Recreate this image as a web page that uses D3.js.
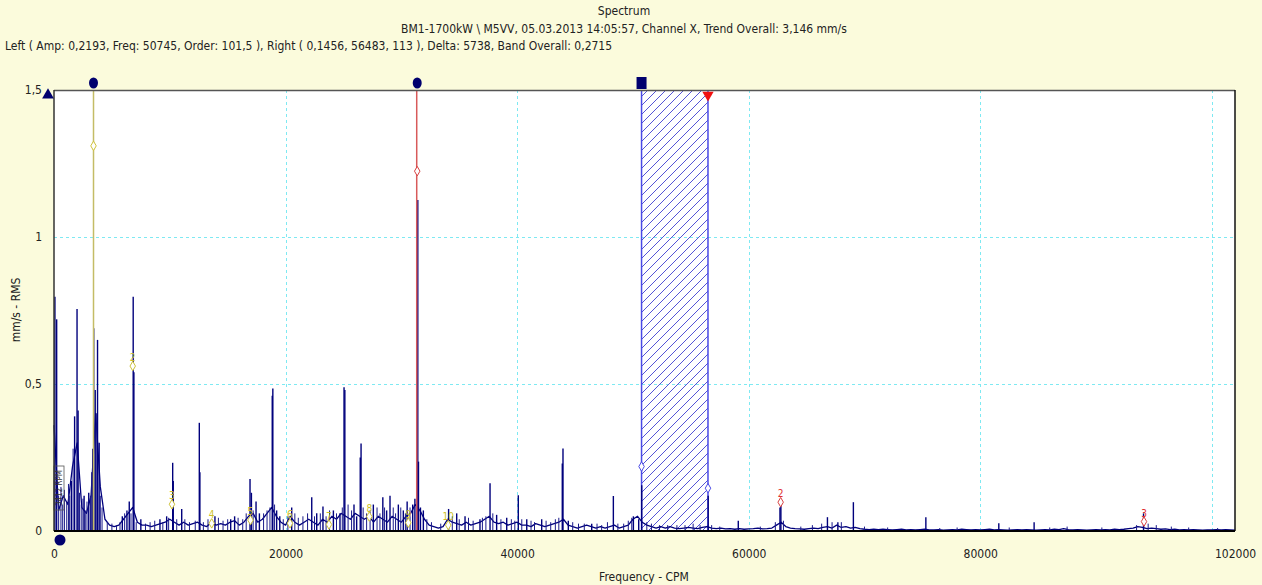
<!DOCTYPE html>
<html lang="en">
<head>
<meta charset="UTF-8" />
<title>Spectrum</title>
<style>
  body {
    margin: 0;
    background: #fbfbdc;
    font-family: "Liberation Sans Narrow", "Arial Narrow", "DejaVu Sans Condensed", sans-serif;
  }
  svg text { fill: #222; font-size: 12px; }
  .grid line { stroke: #7ee9f2; stroke-dasharray: 3 3; stroke-width: 1; }
  .axis path { display: none; }
  .axis line { display: none; }
  .spec { fill: none; stroke: #00007c; stroke-width: 1.3; stroke-linejoin: round; }
  .peak { stroke: #00007c; stroke-width: 1.4; }
  .minor { stroke: #1a1a8a; stroke-width: 1; }
</style>
</head>
<body>
<svg id="chart" width="1262" height="585"></svg>
<script src="https://d3js.org/d3.v7.min.js"></script>
<script>
  // ---- data ----
  var titleLines = [
    "Spectrum",
    "BM1-1700kW \\ M5VV, 05.03.2013 14:05:57, Channel X, Trend Overall: 3,146 mm/s"
  ];
  var infoLine = "Left ( Amp: 0,2193, Freq: 50745, Order: 101,5 ), Right (  0,1456,  56483, 113 ), Delta: 5738, Band Overall: 0,2715";

  var xTickValues = [0, 20000, 40000, 60000, 80000, 102000];
  var xTickLabels = ["0", "20000", "40000", "60000", "80000", "102000"];
  var xGridValues = [20000, 40000, 60000, 80000, 100000];
  var yTickValues = [0, 0.5, 1, 1.5];
  var yTickLabels = ["0", "0,5", "1", "1,5"];

  // noise floor, one value every 400 CPM (0 .. 102000)
  var noiseStep = 400;
  var noise = [
    0.36, 0.07, 0.12, 0.09, 0.22, 0.30, 0.08, 0.06, 0.12, 0.40,
    0.15, 0.04, 0.02, 0.015, 0.02, 0.04, 0.06, 0.08, 0.03, 0.02,
    0.02, 0.015, 0.02, 0.025, 0.03, 0.04, 0.03, 0.02, 0.03, 0.02,
    0.025, 0.03, 0.02, 0.015, 0.03, 0.02, 0.025, 0.02, 0.03, 0.035,
    0.02, 0.03, 0.05, 0.06, 0.03, 0.04, 0.06, 0.08, 0.05, 0.03,
    0.02, 0.05, 0.03, 0.02, 0.03, 0.04, 0.03, 0.02, 0.04, 0.03,
    0.05, 0.04, 0.06, 0.05, 0.04, 0.06, 0.05, 0.04, 0.05, 0.03,
    0.05, 0.04, 0.03, 0.05, 0.04, 0.03, 0.05, 0.06, 0.09, 0.07,
    0.04, 0.02, 0.015, 0.01, 0.015, 0.04, 0.03, 0.025, 0.02, 0.03,
    0.02, 0.025, 0.03, 0.04, 0.05, 0.03, 0.025, 0.03, 0.02, 0.025,
    0.03, 0.02, 0.02, 0.015, 0.025, 0.02, 0.015, 0.02, 0.025, 0.03,
    0.04, 0.02, 0.015, 0.01, 0.015, 0.02, 0.015, 0.01, 0.015, 0.01,
    0.015, 0.02, 0.01, 0.015, 0.02, 0.04, 0.05, 0.03, 0.02, 0.015,
    0.01, 0.015, 0.01, 0.015, 0.01, 0.008, 0.01, 0.012, 0.01, 0.008,
    0.012, 0.015, 0.01, 0.008, 0.01, 0.007, 0.008, 0.006, 0.008, 0.006,
    0.007, 0.008, 0.01, 0.007, 0.008, 0.01, 0.02, 0.03, 0.015, 0.01,
    0.008, 0.007, 0.006, 0.008, 0.01, 0.008, 0.012, 0.015, 0.01, 0.02,
    0.012, 0.015, 0.01, 0.012, 0.008, 0.006, 0.005, 0.006, 0.005, 0.006,
    0.005, 0.004, 0.005, 0.006, 0.004, 0.005, 0.004, 0.005, 0.006, 0.004,
    0.004, 0.005, 0.003, 0.004, 0.005, 0.004, 0.006, 0.005, 0.004, 0.005,
    0.004, 0.005, 0.006, 0.004, 0.005, 0.004, 0.003, 0.004, 0.005, 0.004,
    0.005, 0.004, 0.003, 0.004, 0.005, 0.004, 0.006, 0.005, 0.008, 0.005,
    0.004, 0.005, 0.004, 0.003, 0.004, 0.005, 0.004, 0.005, 0.004, 0.006,
    0.005, 0.006, 0.008, 0.01, 0.015, 0.012, 0.008, 0.01, 0.008, 0.006,
    0.007, 0.005, 0.006, 0.004, 0.005, 0.004, 0.005, 0.004, 0.003, 0.004,
    0.004, 0.005, 0.004, 0.005, 0.004, 0.003
  ];

  // spectral lines [freq CPM, amplitude mm/s]
  var peaks = [
    [80, 0.797], [230, 0.72], [1500, 0.17], [1780, 0.39], [1990, 0.755], [2080, 0.41],
    [2600, 0.12], [3000, 0.13], [3350, 0.28], [3430, 0.69], [3560, 0.48], [3760, 0.65],
    [3900, 0.30], [5900, 0.05], [6300, 0.07], [6500, 0.10], [6840, 0.797], [6900, 0.54],
    [7500, 0.04], [9150, 0.04], [9730, 0.05], [10250, 0.232], [10300, 0.17], [11030, 0.075],
    [12550, 0.368], [12600, 0.20], [13900, 0.05], [15260, 0.04], [15600, 0.05],
    [16930, 0.177], [17050, 0.13], [17450, 0.10], [17740, 0.06], [18850, 0.46], [18900, 0.485],
    [19230, 0.07], [19500, 0.05], [20530, 0.08], [22260, 0.115], [22690, 0.06], [23230, 0.083],
    [24130, 0.07], [24700, 0.06], [25050, 0.489], [25120, 0.48], [25910, 0.09], [26140, 0.05],
    [26450, 0.25], [26520, 0.298], [27580, 0.09], [28400, 0.115], [28730, 0.07], [29020, 0.12],
    [29740, 0.09], [30170, 0.07], [30500, 0.10], [30980, 0.09], [31170, 0.11], [31420, 1.126],
    [31480, 0.236], [31650, 0.08], [31900, 0.07], [34080, 0.075], [34780, 0.06], [35500, 0.05],
    [36790, 0.04], [37660, 0.162], [38230, 0.055], [39100, 0.045], [40100, 0.122], [40830, 0.04],
    [42120, 0.04], [43900, 0.23], [43960, 0.281], [44420, 0.035], [46440, 0.025], [48310, 0.119],
    [50040, 0.05], [50500, 0.04], [50760, 0.156], [56500, 0.12], [59100, 0.035], [62700, 0.08],
    [62780, 0.094], [66800, 0.047], [67700, 0.03], [69040, 0.098], [75300, 0.047], [81600, 0.026],
    [84650, 0.03], [94100, 0.06]
  ];

  // small lines in the noise floor [freq CPM, amplitude mm/s]
  var minorLines = [
    [400, 0.12], [600, 0.15], [750, 0.09], [900, 0.14], [1100, 0.10], [1250, 0.16], [1350, 0.12],
    [1650, 0.28], [2200, 0.13], [2350, 0.09], [2500, 0.11], [2700, 0.07], [2850, 0.10],
    [3150, 0.12], [3250, 0.20], [3650, 0.40], [4000, 0.12], [4150, 0.08],
    [4600, 0.03], [5000, 0.025], [5400, 0.02], [5700, 0.03], [6100, 0.06], [6650, 0.06],
    [7100, 0.03], [7900, 0.025], [8300, 0.03], [8700, 0.035], [9400, 0.03], [9900, 0.045],
    [10600, 0.04], [11300, 0.04], [11700, 0.03], [12200, 0.035], [12900, 0.03], [13300, 0.04],
    [14200, 0.045], [14600, 0.035], [15000, 0.04], [15900, 0.045], [16300, 0.04], [16600, 0.06],
    [17200, 0.07], [18100, 0.06], [18400, 0.07], [18650, 0.08], [19050, 0.09], [19800, 0.04],
    [20200, 0.05], [20800, 0.06], [21100, 0.045], [21500, 0.05], [21900, 0.06], [22500, 0.05],
    [23000, 0.06], [23500, 0.05], [23800, 0.07], [24400, 0.06], [24900, 0.08], [25400, 0.09],
    [25700, 0.07], [26700, 0.08], [27000, 0.06], [27300, 0.07], [27900, 0.08], [28150, 0.06],
    [28550, 0.08], [29300, 0.08], [29500, 0.06], [29950, 0.08], [30350, 0.06], [30750, 0.08],
    [32200, 0.04], [32600, 0.03], [33400, 0.025], [34400, 0.05], [35000, 0.04], [35800, 0.045],
    [36200, 0.035], [37000, 0.045], [37300, 0.05], [37900, 0.06], [38600, 0.04], [39500, 0.04],
    [39800, 0.035], [40400, 0.04], [41200, 0.035], [41500, 0.03], [42500, 0.035], [42900, 0.03],
    [43300, 0.04], [43600, 0.045], [44800, 0.03], [45300, 0.025], [45800, 0.025], [46900, 0.025],
    [47300, 0.02], [47800, 0.03], [48700, 0.025], [49200, 0.025], [49600, 0.035], [49900, 0.045],
    [51200, 0.03], [51600, 0.025], [52300, 0.02], [53000, 0.02], [53800, 0.02], [54500, 0.02],
    [55200, 0.025], [55800, 0.02], [56800, 0.02], [57500, 0.015], [61000, 0.015], [62300, 0.03],
    [63000, 0.035], [64500, 0.015], [65500, 0.02], [66300, 0.025], [67200, 0.03], [68000, 0.03],
    [70000, 0.015], [72000, 0.012], [76500, 0.01], [78000, 0.012], [82500, 0.012], [86000, 0.012],
    [87500, 0.015], [90500, 0.012], [93500, 0.02], [94500, 0.025], [95200, 0.02], [96500, 0.015],
    [98000, 0.012], [100500, 0.01]
  ];

  // harmonic cursor (yellow) and its markers
  var harmFreqs = [3412, 6800, 10190, 13620, 16970, 20380, 23750, 27230, 30600, 34050];
  var harmAmps = [1.31, 0.561, 0.091, 0.026, 0.037, 0.026, 0.022, 0.049, 0.028, 0.02];
  var harmLabels = ["", "2", "3", "4", "5", "6", "7", "8", "9", "10"];

  // red cursor and its harmonics
  var redFreqs = [31370, 62760, 94140];
  var redAmps = [1.224, 0.098, 0.032];
  var redLabels = ["", "2", "3"];

  // band cursor
  var bandFreqs = [50745, 56483];
  var bandAmps = [0.2193, 0.1456];

  var rpmLabel = "3412 RPM";

  // ---- layout ----
  var margin = { top: 90, right: 27, bottom: 54, left: 54 },
    width = 1262 - margin.left - margin.right,
    height = 585 - margin.top - margin.bottom;

  var svg = d3.select("#chart");

  var x = d3.scaleLinear().domain([0, 102000]).range([margin.left, margin.left + width]);
  var y = d3.scaleLinear().domain([0, 1.5]).range([margin.top + height, margin.top]);

  var defs = svg.append("defs");
  var hatch = defs.append("pattern")
    .attr("id", "hatch")
    .attr("patternUnits", "userSpaceOnUse")
    .attr("width", 9)
    .attr("height", 9);
  hatch.append("path")
    .attr("d", "M0,9 L9,0 M-2,2 L2,-2 M7,11 L11,7")
    .attr("stroke", "#5454d6")
    .attr("stroke-width", 1);

  // titles
  svg.selectAll(".title")
    .data(titleLines)
    .enter()
    .append("text")
    .attr("class", "title")
    .attr("x", 624)
    .attr("y", (d, i) => 15 + i * 18)
    .attr("text-anchor", "middle")
    .text((d) => d);

  svg.append("text")
    .attr("x", 5)
    .attr("y", 50)
    .text(infoLine);

  // plot background
  svg.append("rect")
    .attr("x", margin.left)
    .attr("y", margin.top)
    .attr("width", width)
    .attr("height", height)
    .attr("fill", "#fff");

  // grid
  var grid = svg.append("g").attr("class", "grid");
  grid.selectAll(".gx")
    .data(xGridValues)
    .enter()
    .append("line")
    .attr("x1", (d) => Math.round(x(d)) + 0.5)
    .attr("x2", (d) => Math.round(x(d)) + 0.5)
    .attr("y1", margin.top)
    .attr("y2", margin.top + height);
  grid.selectAll(".gy")
    .data([0.5, 1])
    .enter()
    .append("line")
    .attr("x1", margin.left)
    .attr("x2", margin.left + width)
    .attr("y1", (d) => Math.round(y(d)) + 0.5)
    .attr("y2", (d) => Math.round(y(d)) + 0.5);

  // band cursor area
  svg.append("rect")
    .attr("x", x(bandFreqs[0]))
    .attr("y", margin.top)
    .attr("width", x(bandFreqs[1]) - x(bandFreqs[0]))
    .attr("height", height)
    .attr("fill", "url(#hatch)");
  svg.selectAll(".bandEdge")
    .data(bandFreqs)
    .enter()
    .append("line")
    .attr("x1", (d) => x(d))
    .attr("x2", (d) => x(d))
    .attr("y1", margin.top)
    .attr("y2", margin.top + height)
    .attr("stroke", "#4a4ae6")
    .attr("stroke-width", 1.5);

  // spectrum
  var line = d3.line()
    .x((d, i) => x(i * noiseStep))
    .y((d) => y(d));
  svg.append("path")
    .datum(noise)
    .attr("class", "spec")
    .attr("d", line);

  svg.selectAll(".minor")
    .data(minorLines)
    .enter()
    .append("line")
    .attr("class", "minor")
    .attr("x1", (d) => x(d[0]))
    .attr("x2", (d) => x(d[0]))
    .attr("y1", y(0))
    .attr("y2", (d) => y(d[1]));

  svg.selectAll(".peak")
    .data(peaks)
    .enter()
    .append("line")
    .attr("class", "peak")
    .attr("x1", (d) => x(d[0]))
    .attr("x2", (d) => x(d[0]))
    .attr("y1", y(0))
    .attr("y2", (d) => y(d[1]));

  // yellow harmonic cursor
  svg.append("line")
    .attr("x1", x(harmFreqs[0]))
    .attr("x2", x(harmFreqs[0]))
    .attr("y1", margin.top)
    .attr("y2", margin.top + height)
    .attr("stroke", "#c4bc66")
    .attr("stroke-width", 1.5);

  // red cursor
  svg.append("line")
    .attr("x1", x(redFreqs[0]) - 0.5)
    .attr("x2", x(redFreqs[0]) - 0.5)
    .attr("y1", margin.top)
    .attr("y2", margin.top + height)
    .attr("stroke", "#d85a5a")
    .attr("stroke-width", 1.5);

  var diamond = d3.symbol().type(d3.symbolDiamond).size(26);

  // harmonic markers
  svg.selectAll(".hm")
    .data(harmFreqs)
    .enter()
    .append("path")
    .attr("d", diamond)
    .attr("transform", (d, i) => "translate(" + x(d) + "," + y(harmAmps[i]) + ")")
    .attr("fill", "#fff")
    .attr("stroke", "#cfc23a")
    .attr("stroke-width", 1);
  svg.selectAll(".hl")
    .data(harmFreqs)
    .enter()
    .append("text")
    .attr("x", (d) => x(d))
    .attr("y", (d, i) => y(harmAmps[i]) - 5)
    .attr("text-anchor", "middle")
    .style("font-size", "10px")
    .style("fill", "#cdbf2a")
    .text((d, i) => harmLabels[i]);

  svg.selectAll(".rm")
    .data(redFreqs)
    .enter()
    .append("path")
    .attr("d", diamond)
    .attr("transform", (d, i) => "translate(" + x(d) + "," + y(redAmps[i]) + ")")
    .attr("fill", "#fff")
    .attr("stroke", "#d84040")
    .attr("stroke-width", 1);
  svg.selectAll(".rl")
    .data(redFreqs)
    .enter()
    .append("text")
    .attr("x", (d) => x(d))
    .attr("y", (d, i) => y(redAmps[i]) - 5)
    .attr("text-anchor", "middle")
    .style("font-size", "10px")
    .style("fill", "#e03030")
    .text((d, i) => redLabels[i]);

  svg.selectAll(".bm")
    .data(bandFreqs)
    .enter()
    .append("path")
    .attr("d", diamond)
    .attr("transform", (d, i) => "translate(" + x(d) + "," + y(bandAmps[i]) + ")")
    .attr("fill", "#fff")
    .attr("stroke", "#4a4ae6")
    .attr("stroke-width", 1);

  // rpm tag
  var rpm = svg.append("g")
    .attr("transform", "translate(" + (margin.left + 5) + "," + 488 + ") rotate(-90)");
  rpm.append("rect")
    .attr("x", -22)
    .attr("y", -5)
    .attr("width", 44)
    .attr("height", 10)
    .attr("fill", "none")
    .attr("stroke", "#555")
    .attr("stroke-width", 0.8);
  rpm.append("text")
    .attr("text-anchor", "middle")
    .attr("dy", "0.35em")
    .style("font-size", "8px")
    .style("fill", "#333")
    .text(rpmLabel);

  // frame
  svg.append("line")
    .attr("x1", margin.left).attr("x2", margin.left + width)
    .attr("y1", margin.top + 0.5).attr("y2", margin.top + 0.5)
    .attr("stroke", "#555").attr("stroke-width", 1.5);
  svg.append("line")
    .attr("x1", margin.left).attr("x2", margin.left)
    .attr("y1", margin.top).attr("y2", margin.top + height)
    .attr("stroke", "#333").attr("stroke-width", 1.5);
  svg.append("line")
    .attr("x1", margin.left + width).attr("x2", margin.left + width)
    .attr("y1", margin.top).attr("y2", margin.top + height)
    .attr("stroke", "#111").attr("stroke-width", 1.5);
  svg.append("line")
    .attr("x1", margin.left).attr("x2", margin.left + width)
    .attr("y1", margin.top + height).attr("y2", margin.top + height)
    .attr("stroke", "#000").attr("stroke-width", 2);

  // axes
  svg.append("g")
    .attr("class", "axis")
    .attr("transform", "translate(0," + (margin.top + height) + ")")
    .call(d3.axisBottom(x).tickValues(xTickValues).tickFormat((d, i) => xTickLabels[i]).tickSize(0).tickPadding(18));

  svg.append("g")
    .attr("class", "axis")
    .attr("transform", "translate(" + margin.left + ",0)")
    .call(d3.axisLeft(y).tickValues(yTickValues).tickFormat((d, i) => yTickLabels[i]).tickSize(0).tickPadding(12));

  svg.selectAll(".axis").attr("font-family", null).attr("font-size", null);

  // axis titles
  svg.append("text")
    .attr("transform", "rotate(-90)")
    .attr("x", -310)
    .attr("y", 20)
    .attr("text-anchor", "middle")
    .text("mm/s - RMS");
  svg.append("text")
    .attr("x", 644)
    .attr("y", 581)
    .attr("text-anchor", "middle")
    .text("Frequency - CPM");

  // cursor handles
  var navy = "#00006e";
  svg.selectAll(".handle")
    .data([harmFreqs[0], redFreqs[0]])
    .enter()
    .append("ellipse")
    .attr("cx", (d) => x(d))
    .attr("cy", 83)
    .attr("rx", 4.5)
    .attr("ry", 5.5)
    .attr("fill", navy);
  svg.append("rect")
    .attr("x", x(bandFreqs[0]) - 5)
    .attr("y", 77)
    .attr("width", 10)
    .attr("height", 12)
    .attr("fill", navy);
  svg.append("path")
    .attr("d", d3.symbol().type(d3.symbolTriangle).size(55))
    .attr("transform", "translate(" + x(bandFreqs[1]) + ",95) rotate(180)")
    .attr("fill", "#f01010");
  svg.append("path")
    .attr("d", d3.symbol().type(d3.symbolTriangle).size(60))
    .attr("transform", "translate(48,95)")
    .attr("fill", navy);
  svg.append("circle")
    .attr("cx", 60)
    .attr("cy", 540)
    .attr("r", 5.5)
    .attr("fill", navy);
</script>
</body>
</html>
